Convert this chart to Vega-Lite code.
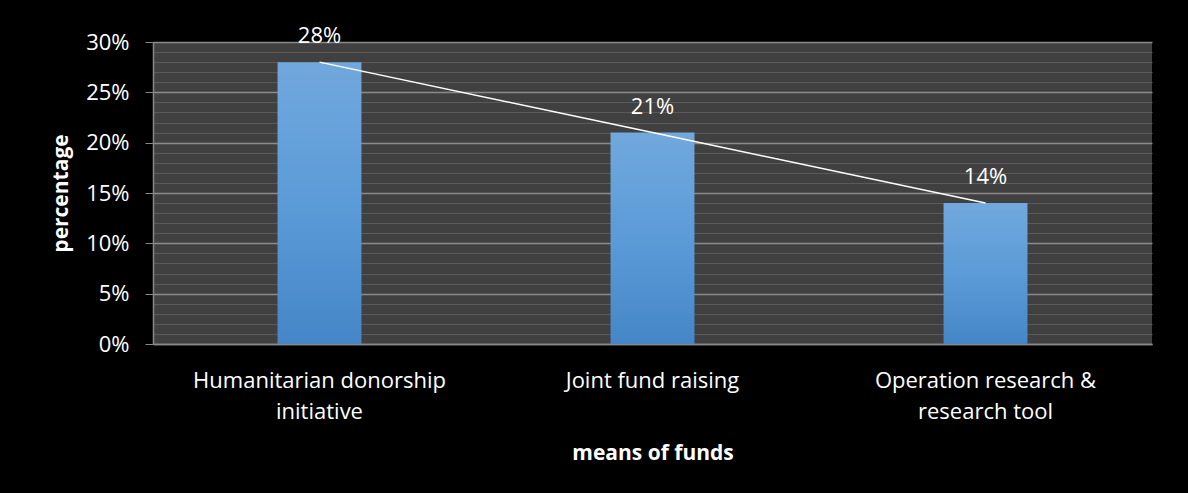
{
  "$schema": "https://vega.github.io/schema/vega-lite/v6.json",
  "width": 999,
  "height": 302,
  "autosize": {"type": "none"},
  "padding": {"left": 153, "top": 42, "right": 36, "bottom": 149},
  "background": "#000000",
  "config": {
    "view": {"fill": "#404040", "stroke": null},
    "font": "Open Sans"
  },
  "data": {
    "values": [
      {"means": "Humanitarian donorship initiative", "pct": 0.28},
      {"means": "Joint fund raising", "pct": 0.21},
      {"means": "Operation research & research tool", "pct": 0.14}
    ]
  },
  "encoding": {
    "x": {
      "field": "means",
      "type": "nominal",
      "sort": null,
      "scale": {"paddingInner": 0.748, "paddingOuter": 0.374},
      "axis": {
        "title": "means of funds",
        "titleColor": "#ffffff",
        "titleFont": "Open Sans",
        "titleFontSize": 21,
        "titleFontWeight": "bold",
        "titlePadding": 20,
        "labelAngle": 0,
        "labelColor": "#ffffff",
        "labelFont": "Open Sans",
        "labelFontSize": 22,
        "labelLineHeight": 31,
        "labelPadding": 26,
        "labelLimit": 0,
        "labelExpr": "datum.value == 'Humanitarian donorship initiative' ? ['Humanitarian donorship', 'initiative'] : datum.value == 'Operation research & research tool' ? ['Operation research &', 'research tool'] : datum.value",
        "ticks": false,
        "domainColor": "#888888",
        "domainWidth": 1.5,
        "grid": false
      }
    },
    "y": {
      "field": "pct",
      "type": "quantitative",
      "scale": {"domain": [0, 0.3], "nice": false},
      "axis": {
        "title": "percentage",
        "titleColor": "#ffffff",
        "titleFont": "Open Sans",
        "titleFontSize": 21,
        "titleFontWeight": "bold",
        "titlePadding": 14,
        "format": ".0%",
        "values": [0, 0.01, 0.02, 0.03, 0.04, 0.05, 0.06, 0.07, 0.08, 0.09, 0.1, 0.11, 0.12, 0.13, 0.14, 0.15, 0.16, 0.17, 0.18, 0.19, 0.2, 0.21, 0.22, 0.23, 0.24, 0.25, 0.26, 0.27, 0.28, 0.29, 0.3],
        "labelExpr": "round(datum.value * 100) % 5 == 0 ? datum.label : ''",
        "labelColor": "#ffffff",
        "labelFont": "Open Sans",
        "labelFontSize": 22,
        "labelPadding": 16,
        "tickSize": 8,
        "tickColor": {"condition": {"test": "round(datum.value * 100) % 5 == 0", "value": "#888888"}, "value": "transparent"},
        "domainColor": "#888888",
        "domainWidth": 1.5,
        "grid": true,
        "gridColor": {"condition": {"test": "round(datum.value * 100) % 5 == 0", "value": "#8a8a8a"}, "value": "#5a5a5a"},
        "gridWidth": {"condition": {"test": "round(datum.value * 100) % 5 == 0", "value": 1.5}, "value": 1.2}
      }
    }
  },
  "layer": [
    {
      "mark": {
        "type": "bar",
        "color": {
          "gradient": "linear",
          "x1": 0, "y1": 0, "x2": 0, "y2": 1,
          "stops": [
            {"offset": 0, "color": "#71a8dd"},
            {"offset": 0.5, "color": "#5b9bd8"},
            {"offset": 1, "color": "#4586c8"}
          ]
        }
      }
    },
    {
      "mark": {"type": "line", "color": "#ffffff", "strokeWidth": 1.5}
    },
    {
      "mark": {"type": "text", "color": "#ffffff", "font": "Open Sans", "fontSize": 22, "baseline": "alphabetic", "dy": -19},
      "encoding": {
        "text": {"field": "pct", "type": "quantitative", "format": ".0%"}
      }
    }
  ]
}
